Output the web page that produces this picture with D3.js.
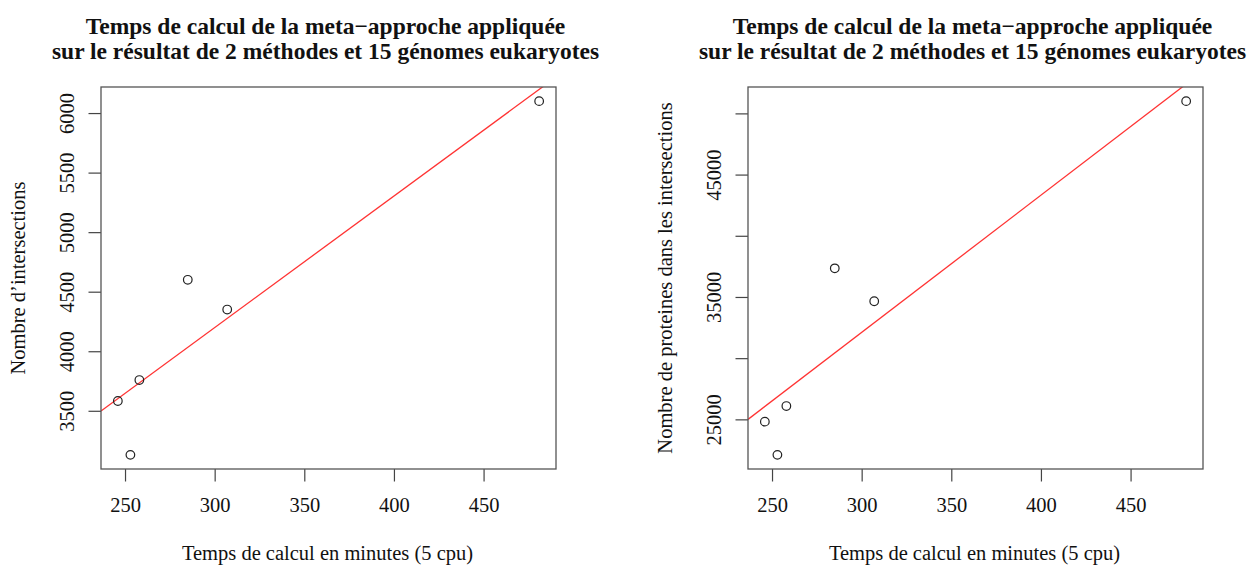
<!DOCTYPE html>
<html>
<head>
<meta charset="utf-8">
<script src="https://cdn.jsdelivr.net/npm/d3@7"></script>
<style>
  html, body { margin: 0; padding: 0; background: #fff; }
  svg { display: block; }
  text { font-family: "Liberation Serif", "Times New Roman", serif; fill: #111; }
</style>
</head>
<body>
<svg id="chart" width="1256" height="569"></svg>
<script>
// Computing time (minutes, 5 cpu) for each run
const tempsCalcul = [246, 253, 258, 285, 307, 481];
// Number of intersections found
const nbIntersections = [3582, 3130, 3758, 4600, 4350, 6100];
// Number of proteins within the intersections
const nbProteines = [24812, 22100, 26087, 37340, 34650, 51000];

const xTicks = [250, 300, 350, 400, 450];
const xTickLabels = ["250", "300", "350", "400", "450"];
const yTicksLeft = [3500, 4000, 4500, 5000, 5500, 6000];
const yTickLabelsLeft = ["3500", "4000", "4500", "5000", "5500", "6000"];
const yTicksRight = [25000, 30000, 35000, 40000, 45000, 50000];
const yTickLabelsRight = ["25000", "", "35000", "", "45000", ""];

const titleLines = [
  "Temps de calcul de la meta\u2212approche appliquée",
  "sur le résultat de 2 méthodes et 15 génomes eukaryotes"
];
const xTitle = "Temps de calcul en minutes (5 cpu)";

const svg = d3.select("#chart");

// Pad a range by 4% on both sides, as R does by default
function padded(values) {
  const [lo, hi] = d3.extent(values);
  const e = (hi - lo) * 0.04;
  return [lo - e, hi + e];
}

// Least-squares fit y = a + b x
function linearFit(xs, ys) {
  const mx = d3.mean(xs), my = d3.mean(ys);
  let sxy = 0, sxx = 0;
  xs.forEach((x, i) => { sxy += (x - mx) * (ys[i] - my); sxx += (x - mx) * (x - mx); });
  const b = sxy / sxx;
  return { a: my - b * mx, b };
}

function panel(opts) {
  const { left, top, width, height, ys, yTicks, yLabels, yTitle, id } = opts;
  const g = svg.append("g").attr("transform", `translate(${left},${top})`);

  const x = d3.scaleLinear().domain(padded(tempsCalcul)).range([0, width]);
  const y = d3.scaleLinear().domain(padded(ys)).range([height, 0]);

  g.append("clipPath").attr("id", id)
    .append("rect").attr("width", width).attr("height", height);

  // Bottom axis
  const xAxis = g.append("g")
    .attr("transform", `translate(0,${height})`)
    .call(d3.axisBottom(x).tickValues(xTicks)
      .tickFormat((d, i) => xTickLabels[i])
      .tickSize(12.5).tickSizeOuter(0).tickPadding(16));
  xAxis.select(".domain").remove();
  xAxis.selectAll("line").attr("stroke", "#444").attr("stroke-width", 1.2);
  xAxis.selectAll("text").attr("font-size", 20.5).attr("fill", "#111")
    .attr("font-family", "Liberation Serif, serif");

  // Left axis, labels parallel to the axis
  const yAxis = g.append("g")
    .call(d3.axisLeft(y).tickValues(yTicks)
      .tickFormat((d, i) => yLabels[i])
      .tickSize(12.5).tickSizeOuter(0));
  yAxis.select(".domain").remove();
  yAxis.selectAll("line").attr("stroke", "#444").attr("stroke-width", 1.2);
  yAxis.selectAll("text")
    .attr("font-size", 20.5).attr("fill", "#111")
    .attr("font-family", "Liberation Serif, serif")
    .attr("transform", "rotate(-90)")
    .attr("text-anchor", "middle")
    .attr("x", 0).attr("y", -27.5).attr("dy", 0);

  // Fitted regression line
  const fit = linearFit(tempsCalcul, ys);
  const [x0, x1] = x.domain();
  g.append("line")
    .attr("clip-path", `url(#${id})`)
    .attr("x1", x(x0)).attr("y1", y(fit.a + fit.b * x0))
    .attr("x2", x(x1)).attr("y2", y(fit.a + fit.b * x1))
    .attr("stroke", "#ff3333").attr("stroke-width", 1.3);

  // Observations
  g.selectAll("circle.pt").data(tempsCalcul).join("circle")
    .attr("class", "pt")
    .attr("cx", d => x(d))
    .attr("cy", (d, i) => y(ys[i]))
    .attr("r", 4.3)
    .attr("fill", "none").attr("stroke", "#222").attr("stroke-width", 1.2);

  // Plot frame
  g.append("rect").attr("width", width).attr("height", height)
    .attr("fill", "none").attr("stroke", "#555").attr("stroke-width", 1.3);

  // Titles
  const cx = width / 2;
  g.append("text").attr("x", cx - 3).attr("y", -53)
    .attr("text-anchor", "middle").attr("font-weight", "bold").attr("font-size", 23.5)
    .text(titleLines[0]);
  g.append("text").attr("x", cx - 3).attr("y", -28)
    .attr("text-anchor", "middle").attr("font-weight", "bold").attr("font-size", 23.5)
    .text(titleLines[1]);
  g.append("text").attr("x", cx - 1).attr("y", height + 91)
    .attr("text-anchor", "middle").attr("font-size", 20.5)
    .text(xTitle);
  g.append("text")
    .attr("transform", `translate(${-76},${height / 2}) rotate(-90)`)
    .attr("text-anchor", "middle").attr("font-size", 20.5)
    .text(yTitle);
}

panel({
  id: "clipA", left: 101, top: 87, width: 455, height: 382,
  ys: nbIntersections, yTicks: yTicksLeft, yLabels: yTickLabelsLeft,
  yTitle: "Nombre d\u2019intersections"
});
panel({
  id: "clipB", left: 748, top: 87, width: 455, height: 382,
  ys: nbProteines, yTicks: yTicksRight, yLabels: yTickLabelsRight,
  yTitle: "Nombre de proteines dans les intersections"
});
</script>
</body>
</html>
